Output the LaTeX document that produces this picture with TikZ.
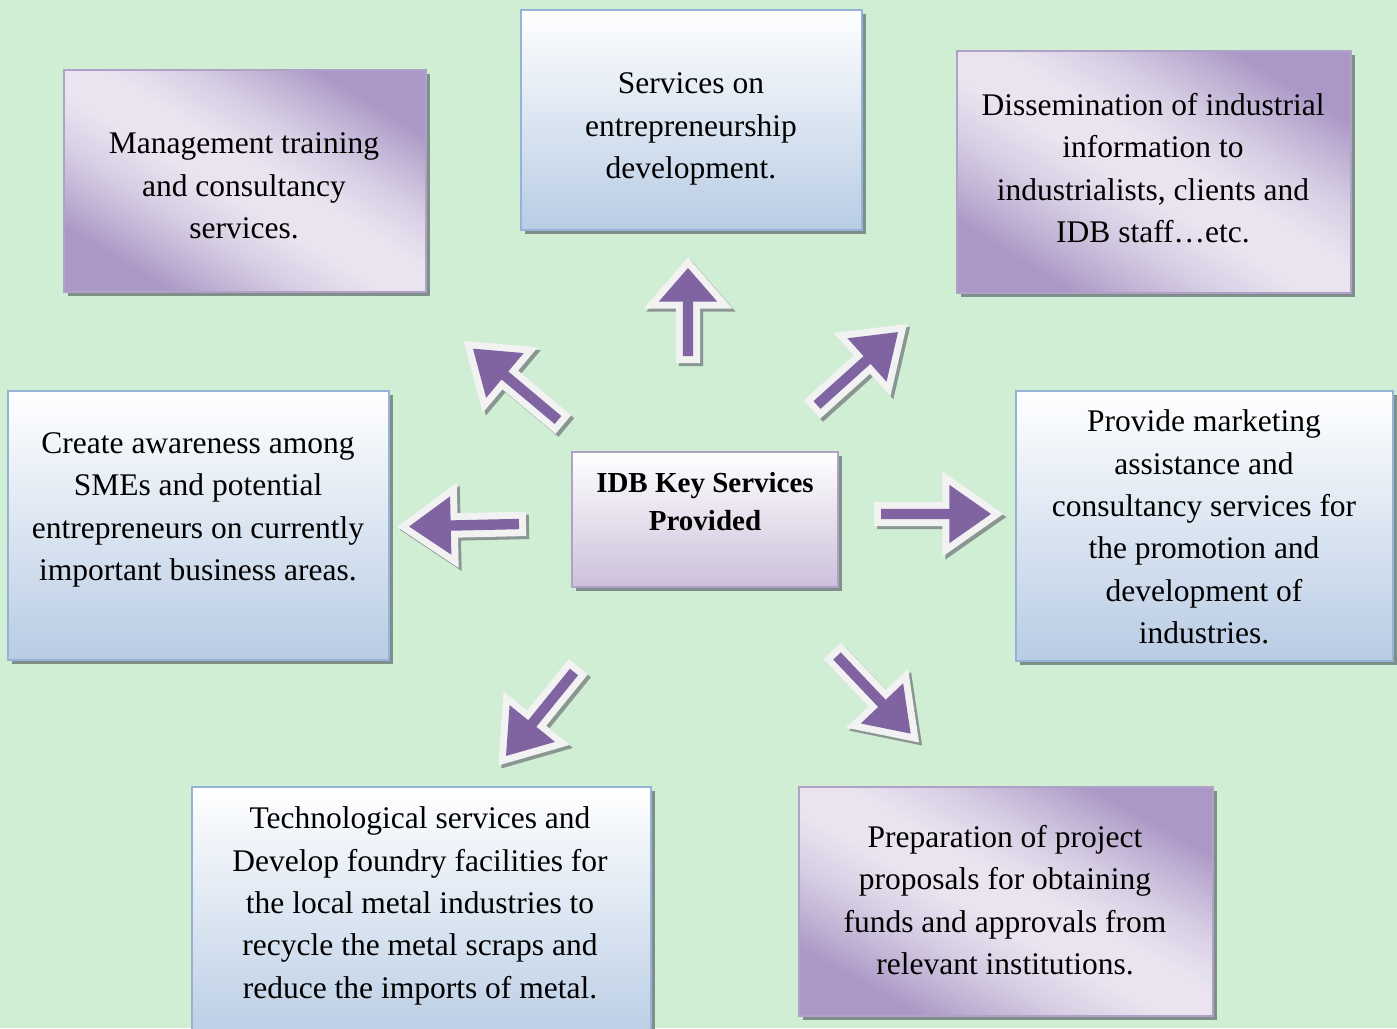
\documentclass[tikz,border=0pt]{standalone}
\usepackage{fontspec}
\setmainfont{Liberation Serif}
\usetikzlibrary{shapes.arrows}

\definecolor{bg}{RGB}{207,238,212}
\definecolor{boxshadow}{RGB}{128,143,138}
\definecolor{blueedge}{RGB}{149,179,215}
\definecolor{bluelow}{RGB}{184,204,228}
\definecolor{purpleedge}{RGB}{178,161,199}
\definecolor{purpledark}{RGB}{172,152,198}
\definecolor{purplelight}{RGB}{233,228,240}
\colorlet{purplehigh}{purpledark!70!purplelight}
\colorlet{purplesoft}{purpledark!28!purplelight}
\definecolor{centerlow}{RGB}{204,192,218}
\definecolor{arrowpurple}{RGB}{128,100,162}
\definecolor{arrowwhite}{RGB}{242,242,242}
\definecolor{arrowshadow}{RGB}{138,150,146}

% diagonal fill of the purple panels: deep tint in two opposite corners,
% a broad pale band along the other diagonal
\pgfdeclareverticalshading{purplediag}{100bp}{%
  color(0bp)=(purpledark); color(25bp)=(purpledark);
  color(30bp)=(purplehigh); color(38bp)=(purplesoft);
  color(46bp)=(purplelight); color(54bp)=(purplelight);
  color(62bp)=(purplesoft); color(70bp)=(purplehigh);
  color(75bp)=(purpledark); color(100bp)=(purpledark)}

\tikzset{
  frame/.style={rectangle, line width=2pt, inner sep=0pt, outer sep=0pt, anchor=north west},
  box/.style={frame,
    preaction={fill=boxshadow, transform canvas={xshift=4pt,yshift=-4pt}}},
  bluebox/.style={box, draw=blueedge, top color=white, bottom color=bluelow},
  centerbox/.style={box, draw=purpleedge, top color=white, bottom color=centerlow},
  lbl/.style={align=center, inner sep=0pt, font=\fontsize{31.5}{42.3}\selectfont},
  keylbl/.style={align=center, inner sep=0pt, font=\fontsize{29}{38}\selectfont\bfseries},
  blockarrow/.style={single arrow, fill=arrowpurple, inner sep=5pt, outer sep=0pt,
    anchor=tail, single arrow head extend=24pt, single arrow tip angle=70,
    minimum height=#1,
    preaction={draw=arrowshadow, fill=arrowshadow, line width=14pt,
      transform canvas={xshift=3pt,yshift=-3pt}},
    preaction={draw=arrowwhite, fill=arrowwhite, line width=14pt}},
}

% purple panel: name, left, top, width, height
% the shading is laid on a square and stretched to the panel, so its bands follow the diagonals
\newcommand\purplepanel[5]{%
  \fill[boxshadow] (#2+4,#3+4) rectangle ++(#4,#5);
  \begin{scope}[transform canvas={shift={(#2,#3+#5)}, xscale=#4/100, yscale=#5/100}]
    \shade[shading=purplediag, shading angle=-45] (0pt,0pt) rectangle (100pt,100pt);
  \end{scope}
  \node[frame, draw=purpleedge, minimum width=#4pt, minimum height=#5pt] (#1) at (#2,#3) {};
}

\begin{document}
\begin{tikzpicture}[x=1pt,y=-1pt]
  \useasboundingbox (0,0) rectangle (1397,1028);
  \clip (0,0) rectangle (1397,1028);
  \fill[bg] (0,0) rectangle (1397,1028);

  % service boxes
  \purplepanel{mgmt}{64}{70}{362}{222}
  \node[bluebox,   minimum width=341pt, minimum height=220pt] (entre)  at (521,10) {};
  \purplepanel{dissem}{957}{51}{394}{242}
  \node[bluebox,   minimum width=381pt, minimum height=269pt] (aware)  at (8,391)  {};
  \node[centerbox, minimum width=266pt, minimum height=135pt] (key)    at (572,452) {};
  \node[bluebox,   minimum width=377pt, minimum height=270pt] (market) at (1016,391) {};
  \node[bluebox,   minimum width=459pt, minimum height=260pt] (tech)   at (192,787) {};
  \purplepanel{prep}{799}{787}{414}{229}

  % box texts
  \node[lbl] (tmgmt) at (244,186) {Management training\\and consultancy\\services.};
  \node[lbl] (tentre) at (691,129) {Services on\\entrepreneurship\\development.};
  \node[lbl] (tdissem) at (1153,168) {Dissemination of industrial\\information to\\industrialists, clients and\\IDB staff\ldots etc.};
  \node[lbl] (taware) at (198,510) {Create awareness among\\SMEs and potential\\entrepreneurs on currently\\important business areas.};
  \node[keylbl] (tkey) at (705,502) {IDB Key Services\\Provided};
  \node[lbl] (tmarket) at (1204,527) {Provide marketing\\assistance and\\consultancy services for\\the promotion and\\development of\\industries.};
  \node[lbl] (ttech) at (420,906) {Technological services and\\Develop foundry facilities for\\the local metal industries to\\recycle the metal scraps and\\reduce the imports of metal.};
  \node[lbl] (tprep) at (1005,900) {Preparation of project\\proposals for obtaining\\funds and approvals from\\relevant institutions.};

  % block arrows radiating from the centre
  \node[blockarrow=88pt, single arrow tip angle=82, rotate=90] (aup) at (688,356) {};
  \node[blockarrow=111pt, rotate=140] (aul) at (558,420) {};
  \node[blockarrow=109pt, rotate=42] (aur) at (817,405) {};
  \node[blockarrow=110pt, rotate=181.3] (al) at (519,524) {};
  \node[blockarrow=110pt, rotate=0] (ar) at (881,514) {};
  \node[blockarrow=108pt, rotate=231] (adl) at (574,672) {};
  \node[blockarrow=107pt, rotate=-46.5] (adr) at (837,656) {};
\end{tikzpicture}
\end{document}
